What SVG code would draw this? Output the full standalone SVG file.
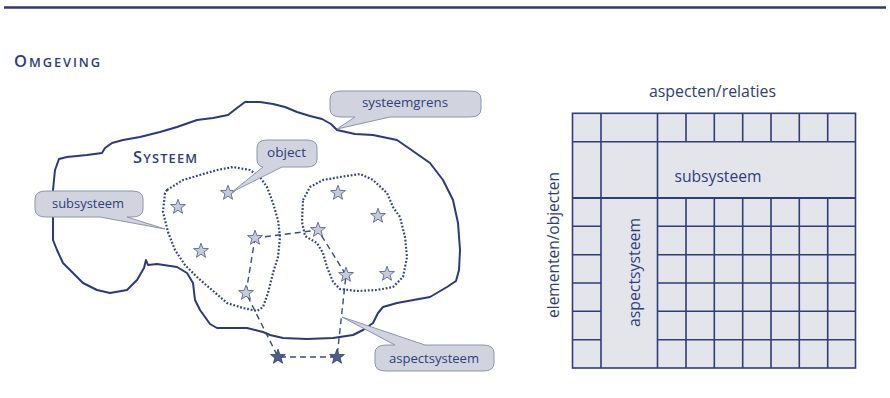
<svg xmlns="http://www.w3.org/2000/svg" xmlns:xlink="http://www.w3.org/1999/xlink" width="890" height="398" viewBox="0 0 890 398">
<style>
  .txt { font-family: "Open Sans", "DejaVu Sans", sans-serif; fill: #2e3d7c; }
  .head { font-family: "Open Sans", "DejaVu Sans", sans-serif; fill: #2e3d7c; font-weight: 600; }
  .callout { fill: #d1d4df; stroke: #8c94b0; stroke-width: 1; stroke-linejoin: round; }
  .ctext { font-size: 13.5px; text-anchor: middle; }
  .outer { fill: none; stroke: #2a3a7a; stroke-width: 2; stroke-linejoin: round; stroke-linecap: round; }
  .dotted { fill: none; stroke: #34447f; stroke-width: 2.2; stroke-dasharray: 1.8 1.8; }
  .dashed { fill: none; stroke: #3b4a86; stroke-width: 1.4; stroke-dasharray: 6 4; }
  .star { fill: #c6cad9; stroke: #4a5788; stroke-width: 0.8; }
  .stardark { fill: #4f5d8e; stroke: #2f3d75; stroke-width: 0.8; }
  .grid { fill: none; stroke: #2f3d7a; stroke-width: 1.6; }
</style>
<defs>
  <path id="star" d="M0,-7.8 L1.9,-2.6 L7.42,-2.41 L3.07,1 L4.58,6.31 L0,3.2 L-4.58,6.31 L-3.07,1 L-7.42,-2.41 L-1.9,-2.6 Z"/>
</defs>

<line x1="4" y1="7.5" x2="886" y2="7.5" stroke="#2a3a7a" stroke-width="2.5"/>

<text id="omgeving" class="head" x="14" y="67" textLength="86" lengthAdjust="spacing"><tspan font-size="16.5">O</tspan><tspan font-size="12.8">MGEVING</tspan></text>

<g id="systeem">
  <path class="outer" d="M59,159 L67,157 L87,155 L102,153 L105,148 L112,143 L123,140 L140,137 L160,132 L177,127 L197,120 L213,118 L228,115 L237,108 L245,102 L260,102 L273,104 L285,107 L297,112 L310,116 L322,119 L331,124 L337,130 L355,134 L373,135 L397,140 L410,149 L430,163 L443,180 L453,200 L458,223 L460,250 L459,270 L456,281 L447,287 L430,297 L397,303 L383,307 L378,313 L373,323 L363,330 L353,335 L333,338 L307,339 L283,338 L270,335 L263,332 L247,328 L217,328 L210,324 L200,310 L195,300 L193,283 L187,273 L177,267 L157,264 L148,265 L146,260 L144,268 L137,280 L127,290 L110,293 L97,290 L83,283 L73,273 L63,263 L57,250 L53,240 L53,190 L55,170 Z"/>
  <text class="head" x="133" y="163" textLength="64" lengthAdjust="spacing"><tspan font-size="16.5">S</tspan><tspan font-size="12.8">YSTEEM</tspan></text>
</g>

<g id="subsysteem-links">
  <path class="dotted" d="M167,190 L183,180 L200,175 L217,170 L233,167 L250,170 L260,177 L267,187 L273,203 L278,220 L280,237 L278,257 L273,273 L268,293 L263,307 L257,311 L243,308 L227,303 L212,290 L198,278 L185,265 L175,250 L168,232 L163,212 L165,193 Z"/>
</g>
<g id="subsysteem-rechts">
  <path class="dotted" d="M303,200 L310,187 L323,180 L340,177 L360,174 L373,180 L387,193 L393,207 L400,217 L405,237 L407,257 L403,277 L393,287 L377,290 L357,291 L340,289 L333,282 L327,267 L323,253 L317,243 L305,236 L302,222 Z"/>
</g>

<g id="connectors">
  <path class="dashed" d="M255,238 L318,230 L346,275 L337,357 L278,357 L246,293 Z"/>
</g>

<g id="stars">
  <use xlink:href="#star" class="star" x="178" y="207"/>
  <use xlink:href="#star" class="star" x="228" y="193"/>
  <use xlink:href="#star" class="star" x="201" y="251"/>
  <use xlink:href="#star" class="star" x="255" y="238"/>
  <use xlink:href="#star" class="star" x="246" y="293"/>
  <use xlink:href="#star" class="star" x="338" y="193"/>
  <use xlink:href="#star" class="star" x="378" y="216"/>
  <use xlink:href="#star" class="star" x="318" y="230"/>
  <use xlink:href="#star" class="star" x="346" y="275"/>
  <use xlink:href="#star" class="star" x="387" y="274"/>
  <use xlink:href="#star" class="stardark" x="278" y="357"/>
  <use xlink:href="#star" class="stardark" x="337" y="357"/>
</g>

<g id="callout-systeemgrens">
  <path class="callout" d="M341,91 H470 Q481,91 481,99 V109 Q481,117 470,117 H390 L337,129 L355,117 H341 Q330,117 330,109 V99 Q330,91 341,91 Z"/>
  <text class="txt ctext" x="405" y="107" textLength="86" lengthAdjust="spacingAndGlyphs">systeemgrens</text>
</g>
<g id="callout-object">
  <path class="callout" d="M267,140 H307 Q317,140 317,148 V159 Q317,167 307,167 H282 L232,192 L263,167 Q257,166 257,159 V148 Q257,140 267,140 Z"/>
  <text class="txt ctext" x="286.5" y="157" textLength="39" lengthAdjust="spacingAndGlyphs">object</text>
</g>
<g id="callout-subsysteem">
  <path class="callout" d="M46,191 H132 Q143,191 143,199 V209 Q143,217 132,217 H127 L165,229 L100,217 H46 Q35,217 35,209 V199 Q35,191 46,191 Z"/>
  <text class="txt ctext" x="88" y="208" textLength="72" lengthAdjust="spacingAndGlyphs">subsysteem</text>
</g>
<g id="callout-aspectsysteem">
  <path class="callout" d="M386,345 H395 L342,317 L425,345 H483 Q494,345 494,353 V363 Q494,371 483,371 H386 Q375,371 375,363 V353 Q375,345 386,345 Z"/>
  <text class="txt ctext" x="434" y="363" textLength="90" lengthAdjust="spacingAndGlyphs">aspectsysteem</text>
</g>

<g id="matrix">
  <rect x="572.5" y="113.3" width="283" height="254.7" fill="#e4e5ea"/>
  <path class="grid" d="M601,113.3 V368 M657.5,113.3 V368
    M686,113.3 V141.7 M714.3,113.3 V141.7 M742.7,113.3 V141.7 M771,113.3 V141.7 M799.3,113.3 V141.7 M827.7,113.3 V141.7
    M686,198 V368 M714.3,198 V368 M742.7,198 V368 M771,198 V368 M799.3,198 V368 M827.7,198 V368
    M572.5,141.7 H855.5
    M572.5,226.3 H601 M572.5,254.7 H601 M572.5,283 H601 M572.5,311.3 H601 M572.5,339.7 H601
    M657.5,226.3 H855.5 M657.5,254.7 H855.5 M657.5,283 H855.5 M657.5,311.3 H855.5 M657.5,339.7 H855.5"/>
  <line x1="572.5" y1="198" x2="855.5" y2="198" stroke="#2f3d7a" stroke-width="2.2"/>
  <rect class="grid" x="572.5" y="113.3" width="283" height="254.7"/>
  <text class="txt" x="712.5" y="97" font-size="16" text-anchor="middle" textLength="127" lengthAdjust="spacingAndGlyphs">aspecten/relaties</text>
  <text class="txt" x="718" y="182" font-size="16" text-anchor="middle" textLength="87" lengthAdjust="spacingAndGlyphs">subsysteem</text>
  <text class="txt" transform="translate(559,245) rotate(-90)" font-size="16" text-anchor="middle" textLength="146" lengthAdjust="spacingAndGlyphs">elementen/objecten</text>
  <text class="txt" transform="translate(640,272.5) rotate(-90)" font-size="16" text-anchor="middle" textLength="109" lengthAdjust="spacingAndGlyphs">aspectsysteem</text>
</g>
</svg>
